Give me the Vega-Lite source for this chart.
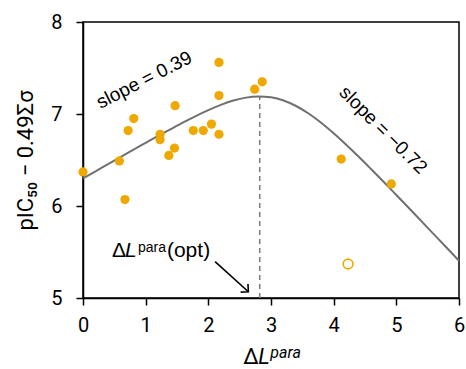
{
  "$schema": "https://vega.github.io/schema/vega-lite/v6.json",
  "autosize": {"type": "none"},
  "width": 376,
  "height": 276,
  "padding": {"left": 83, "top": 22, "right": 7, "bottom": 71},
  "background": "white",
  "config": {
    "view": {"stroke": "black", "strokeWidth": 1.5},
    "axis": {
      "grid": false,
      "domainColor": "black",
      "domainWidth": 1.5,
      "ticks": true,
      "tickColor": "black",
      "tickWidth": 1.5,
      "tickSize": 7,
      "labelFont": "Roboto",
      "labelFontSize": 20,
      "labelColor": "black",
      "labelFlush": false,
      "labelOverlap": false,
      "titleFont": "Roboto",
      "titleFontSize": 22,
      "titleFontWeight": "normal",
      "titleColor": "black"
    },
    "axisX": {"labelPadding": 10},
    "axisY": {"labelPadding": 14}
  },
  "datasets": {
    "points": [
      {"x": 0.0, "y": 6.37, "kind": "filled"},
      {"x": 0.58, "y": 6.49, "kind": "filled"},
      {"x": 0.67, "y": 6.07, "kind": "filled"},
      {"x": 0.72, "y": 6.82, "kind": "filled"},
      {"x": 0.81, "y": 6.95, "kind": "filled"},
      {"x": 1.23, "y": 6.78, "kind": "filled"},
      {"x": 1.23, "y": 6.72, "kind": "filled"},
      {"x": 1.37, "y": 6.55, "kind": "filled"},
      {"x": 1.46, "y": 6.63, "kind": "filled"},
      {"x": 1.47, "y": 7.09, "kind": "filled"},
      {"x": 1.76, "y": 6.82, "kind": "filled"},
      {"x": 1.92, "y": 6.82, "kind": "filled"},
      {"x": 2.05, "y": 6.89, "kind": "filled"},
      {"x": 2.17, "y": 6.78, "kind": "filled"},
      {"x": 2.17, "y": 7.2, "kind": "filled"},
      {"x": 2.17, "y": 7.56, "kind": "filled"},
      {"x": 2.74, "y": 7.27, "kind": "filled"},
      {"x": 2.86, "y": 7.35, "kind": "filled"},
      {"x": 4.12, "y": 6.51, "kind": "filled"},
      {"x": 4.92, "y": 6.24, "kind": "filled"},
      {"x": 4.23, "y": 5.37, "kind": "open"}
    ],
    "curve": [
      {"x": 0.0, "y": 6.3}, {"x": 0.2, "y": 6.377}, {"x": 0.4, "y": 6.455},
      {"x": 0.6, "y": 6.532}, {"x": 0.8, "y": 6.61}, {"x": 1.0, "y": 6.686},
      {"x": 1.2, "y": 6.762}, {"x": 1.4, "y": 6.836}, {"x": 1.6, "y": 6.909},
      {"x": 1.8, "y": 6.978}, {"x": 2.0, "y": 7.042}, {"x": 2.2, "y": 7.099},
      {"x": 2.4, "y": 7.146}, {"x": 2.6, "y": 7.178}, {"x": 2.8, "y": 7.191},
      {"x": 3.0, "y": 7.181}, {"x": 3.2, "y": 7.147}, {"x": 3.4, "y": 7.087},
      {"x": 3.6, "y": 7.005}, {"x": 3.8, "y": 6.905}, {"x": 4.0, "y": 6.79},
      {"x": 4.2, "y": 6.666}, {"x": 4.4, "y": 6.535}, {"x": 4.6, "y": 6.399},
      {"x": 4.8, "y": 6.261}, {"x": 5.0, "y": 6.12}, {"x": 5.2, "y": 5.978},
      {"x": 5.4, "y": 5.835}, {"x": 5.6, "y": 5.692}, {"x": 5.8, "y": 5.549},
      {"x": 6.0, "y": 5.405}
    ],
    "xticks": [{"x": 0}, {"x": 1}, {"x": 2}, {"x": 3}, {"x": 4}, {"x": 5}, {"x": 6}],
    "yticks": [{"y": 5}, {"y": 6}, {"y": 7}, {"y": 8}]
  },
  "encoding": {
    "x": {"field": "x", "type": "quantitative", "scale": {"domain": [0, 6], "nice": false},
      "axis": {"values": [0, 1, 2, 3, 4, 5, 6], "format": "d", "title": null}},
    "y": {"field": "y", "type": "quantitative", "scale": {"domain": [5, 8], "nice": false, "zero": false},
      "axis": {"values": [5, 6, 7, 8], "format": "d", "title": "pIC₅₀ − 0.49Σσ", "titlePadding": 13}}
  },
  "layer": [
    {
      "data": {"name": "xticks"},
      "mark": {"type": "rule", "color": "black", "strokeWidth": 1.5, "clip": false},
      "encoding": {
        "y": {"datum": 5},
        "y2": {"datum": 4.925}
      }
    },
    {
      "data": {"name": "yticks"},
      "mark": {"type": "rule", "color": "black", "strokeWidth": 1.5, "clip": false},
      "encoding": {
        "x": {"datum": 0},
        "x2": {"datum": -0.11}
      }
    },
    {
      "data": {"values": [{"x": 2.82, "y": 5.0, "y2": 7.19}]},
      "mark": {"type": "rule", "color": "#7a7a7a", "strokeWidth": 1.5, "strokeDash": [5, 4]},
      "encoding": {
        "y2": {"field": "y2"}
      }
    },
    {
      "data": {"name": "curve"},
      "mark": {"type": "line", "color": "#707070", "strokeWidth": 2, "interpolate": "monotone"},
      "encoding": {}
    },
    {
      "data": {"name": "points"},
      "transform": [{"filter": "datum.kind === 'filled'"}],
      "mark": {"type": "point", "filled": true, "color": "#EEA800", "opacity": 1, "size": 85},
      "encoding": {}
    },
    {
      "data": {"name": "points"},
      "transform": [{"filter": "datum.kind === 'open'"}],
      "mark": {"type": "point", "filled": false, "fill": "white", "stroke": "#EEA800", "strokeWidth": 1.6, "opacity": 1, "size": 95},
      "encoding": {}
    },
    {
      "data": {"values": [{"x": 2.108, "y": 5.395, "x2": 2.639, "y2": 5.068}]},
      "mark": {"type": "rule", "color": "black", "strokeWidth": 1.6},
      "encoding": {
        "x2": {"field": "x2"},
        "y2": {"field": "y2"}
      }
    },
    {
      "data": {"values": [{"x": 2.639, "y": 5.068}]},
      "mark": {"type": "point", "shape": "M-1,-1L0,0L-1,1", "filled": false, "stroke": "black", "strokeWidth": 1.6, "opacity": 1, "size": 120, "angle": 42},
      "encoding": {}
    },
    {
      "data": {"values": [{"x": 0.977, "y": 7.37, "label": "slope = 0.39"}]},
      "mark": {"type": "text", "font": "Liberation Sans", "fontSize": 19, "angle": -27, "align": "center", "baseline": "middle", "color": "black"},
      "encoding": {"text": {"field": "label"}}
    },
    {
      "data": {"values": [{"x": 4.79, "y": 6.826, "label": "slope = −0.72"}]},
      "mark": {"type": "text", "font": "Liberation Sans", "fontSize": 19, "angle": 45, "align": "center", "baseline": "middle", "color": "black"},
      "encoding": {"text": {"field": "label"}}
    },
    {
      "data": {"values": [{"x": 0.462, "y": 5.442, "label": "Δ"}]},
      "mark": {"type": "text", "font": "Liberation Sans", "fontSize": 21, "align": "left", "baseline": "alphabetic", "color": "black"},
      "encoding": {"text": {"field": "label"}}
    },
    {
      "data": {"values": [{"x": 0.462, "y": 5.442, "label": "L"}]},
      "mark": {"type": "text", "font": "Liberation Sans", "fontSize": 21, "fontStyle": "italic", "align": "left", "baseline": "alphabetic", "dx": 13, "color": "black"},
      "encoding": {"text": {"field": "label"}}
    },
    {
      "data": {"values": [{"x": 0.462, "y": 5.442, "label": "para"}]},
      "mark": {"type": "text", "font": "Liberation Sans", "fontSize": 14, "align": "left", "baseline": "alphabetic", "dx": 26, "dy": -5, "color": "black"},
      "encoding": {"text": {"field": "label"}}
    },
    {
      "data": {"values": [{"x": 0.462, "y": 5.442, "label": "(opt)"}]},
      "mark": {"type": "text", "font": "Liberation Sans", "fontSize": 21, "align": "left", "baseline": "alphabetic", "dx": 55, "color": "black"},
      "encoding": {"text": {"field": "label"}}
    },
    {
      "data": {"values": [{"x": 2.559, "y": 4.28, "label": "Δ"}]},
      "mark": {"type": "text", "font": "Roboto", "fontSize": 22, "align": "left", "baseline": "alphabetic", "color": "black"},
      "encoding": {"text": {"field": "label"}}
    },
    {
      "data": {"values": [{"x": 2.559, "y": 4.28, "label": "L"}]},
      "mark": {"type": "text", "font": "Roboto", "fontSize": 22, "fontStyle": "italic", "align": "left", "baseline": "alphabetic", "dx": 15, "color": "black"},
      "encoding": {"text": {"field": "label"}}
    },
    {
      "data": {"values": [{"x": 2.559, "y": 4.28, "label": "para"}]},
      "mark": {"type": "text", "font": "Roboto", "fontSize": 16, "fontStyle": "italic", "align": "left", "baseline": "alphabetic", "dx": 27, "dy": -6, "color": "black"},
      "encoding": {"text": {"field": "label"}}
    }
  ]
}
